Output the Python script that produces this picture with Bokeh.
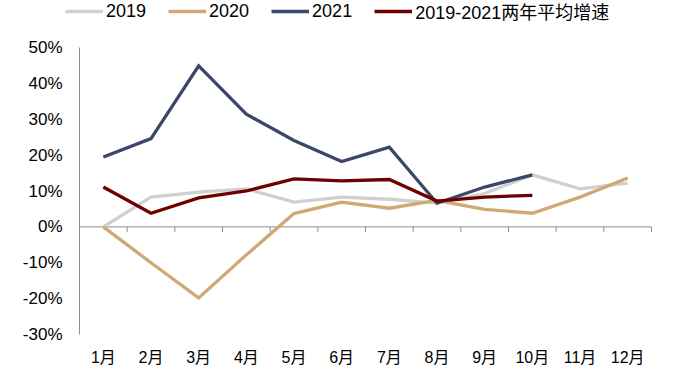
import numpy as np
from bokeh.plotting import figure
from bokeh.models import Range1d, Legend, LegendItem, ColumnDataSource
from bokeh.core.properties import value
from bokeh.embed import file_html
from bokeh.resources import INLINE

months = ["1月", "2月", "3月", "4月", "5月", "6月", "7月", "8月", "9月", "10月", "11月", "12月"]
y2019 = [0.0, 8.3, 9.7, 10.6, 6.9, 8.3, 7.7, 6.6, 9.3, 14.5, 10.6, 12.2]
y2020 = [0.0, -10.0, -19.8, -7.8, 3.7, 6.9, 5.2, 7.4, 4.9, 3.8, 8.3, 13.6]
y2021 = [19.5, 24.6, 44.9, 31.4, 24.1, 18.2, 22.2, 6.6, 11.1, 14.5, None, None]
yavg = [11.1, 3.8, 8.1, 10.0, 13.4, 12.8, 13.2, 7.2, 8.3, 8.8, None, None]
y_ticks = [-30, -20, -10, 0, 10, 20, 30, 40, 50]
y_tick_labels = ["-30%", "-20%", "-10%", "0%", "10%", "20%", "30%", "40%", "50%"]

series_names = ["2019", "2020", "2021", "2019-2021两年平均增速"]
colors = ["#D0D0D0", "#CFA874", "#3B4669", "#6E0000"]

FONT = "'Liberation Sans', 'Noto Sans CJK SC', sans-serif"
AXIS_GREY = "#8C8C8C"

# layout constants (pixels)
W, H = 667, 370
PLOT_L, PLOT_R = 79, 651    # category area in pixels
PLOT_T, PLOT_B = 47, 334    # value-axis extent in pixels

n = len(months)
x = np.arange(1, n + 1)
x_lo, x_hi = 0.5, n + 0.5
y_lo, y_hi = min(y_ticks), max(y_ticks)
px_x = (PLOT_R - PLOT_L) / (x_hi - x_lo)
px_y = (PLOT_B - PLOT_T) / (y_hi - y_lo)
xr = Range1d(x_lo - PLOT_L / px_x, x_hi + (W - PLOT_R) / px_x)
yr = Range1d(y_lo - (H - PLOT_B) / px_y, y_hi + PLOT_T / px_y)

p = figure(width=W, height=H, output_backend="svg", toolbar_location=None,
           x_range=xr, y_range=yr, y_axis_location=None, x_axis_location=None,
           min_border_left=0, min_border_right=0, min_border_top=0,
           min_border_bottom=0)
p.outline_line_color = None
p.grid.visible = False
p.background_fill_color = "white"
p.border_fill_color = "white"

# value axis line and labels
p.segment(x0=[x_lo], y0=[y_lo], x1=[x_lo], y1=[y_hi], line_color=AXIS_GREY, line_width=1)
p.text(x=[x_lo] * len(y_ticks), y=y_ticks, text=y_tick_labels, x_offset=-17,
       text_align="right", text_baseline="middle", text_font=value(FONT),
       text_font_size="17px", text_color="#000000")

# month labels below the plot area
p.text(x=x, y=[y_lo] * n, text=months, y_offset=23,
       text_align="center", text_baseline="middle", text_font=value(FONT),
       text_font_size="16px", text_color="#000000")

# zero line with downward category-boundary ticks
p.segment(x0=[x_lo], y0=[0], x1=[x_hi], y1=[0], line_color=AXIS_GREY, line_width=1)
bounds = x + 0.5
p.segment(x0=bounds, y0=np.zeros(len(bounds)), x1=bounds, y1=np.full(len(bounds), -5 / px_y),
          line_color=AXIS_GREY, line_width=1)

items = []
for name, ys, c in zip(series_names, [y2019, y2020, y2021, yavg], colors):
    vals = [np.nan if v is None else v for v in ys]
    src = ColumnDataSource(dict(x=x, y=vals))
    r = p.line("x", "y", source=src, line_color=c, line_width=3.3, line_join="miter")
    items.append(LegendItem(label=name, renderers=[r]))

LEG_H = 24
legend = Legend(items=items, orientation="horizontal",
                location=(65, H - LEG_H),
                label_text_font=FONT, label_text_font_size="18px",
                label_text_color="#000000", glyph_width=38, glyph_height=LEG_H,
                label_height=LEG_H, label_standoff=3, spacing=22, padding=0,
                margin=0, border_line_color=None, background_fill_alpha=0)
p.add_layout(legend, "center")

open("out.html", "w").write(file_html(p, INLINE))
